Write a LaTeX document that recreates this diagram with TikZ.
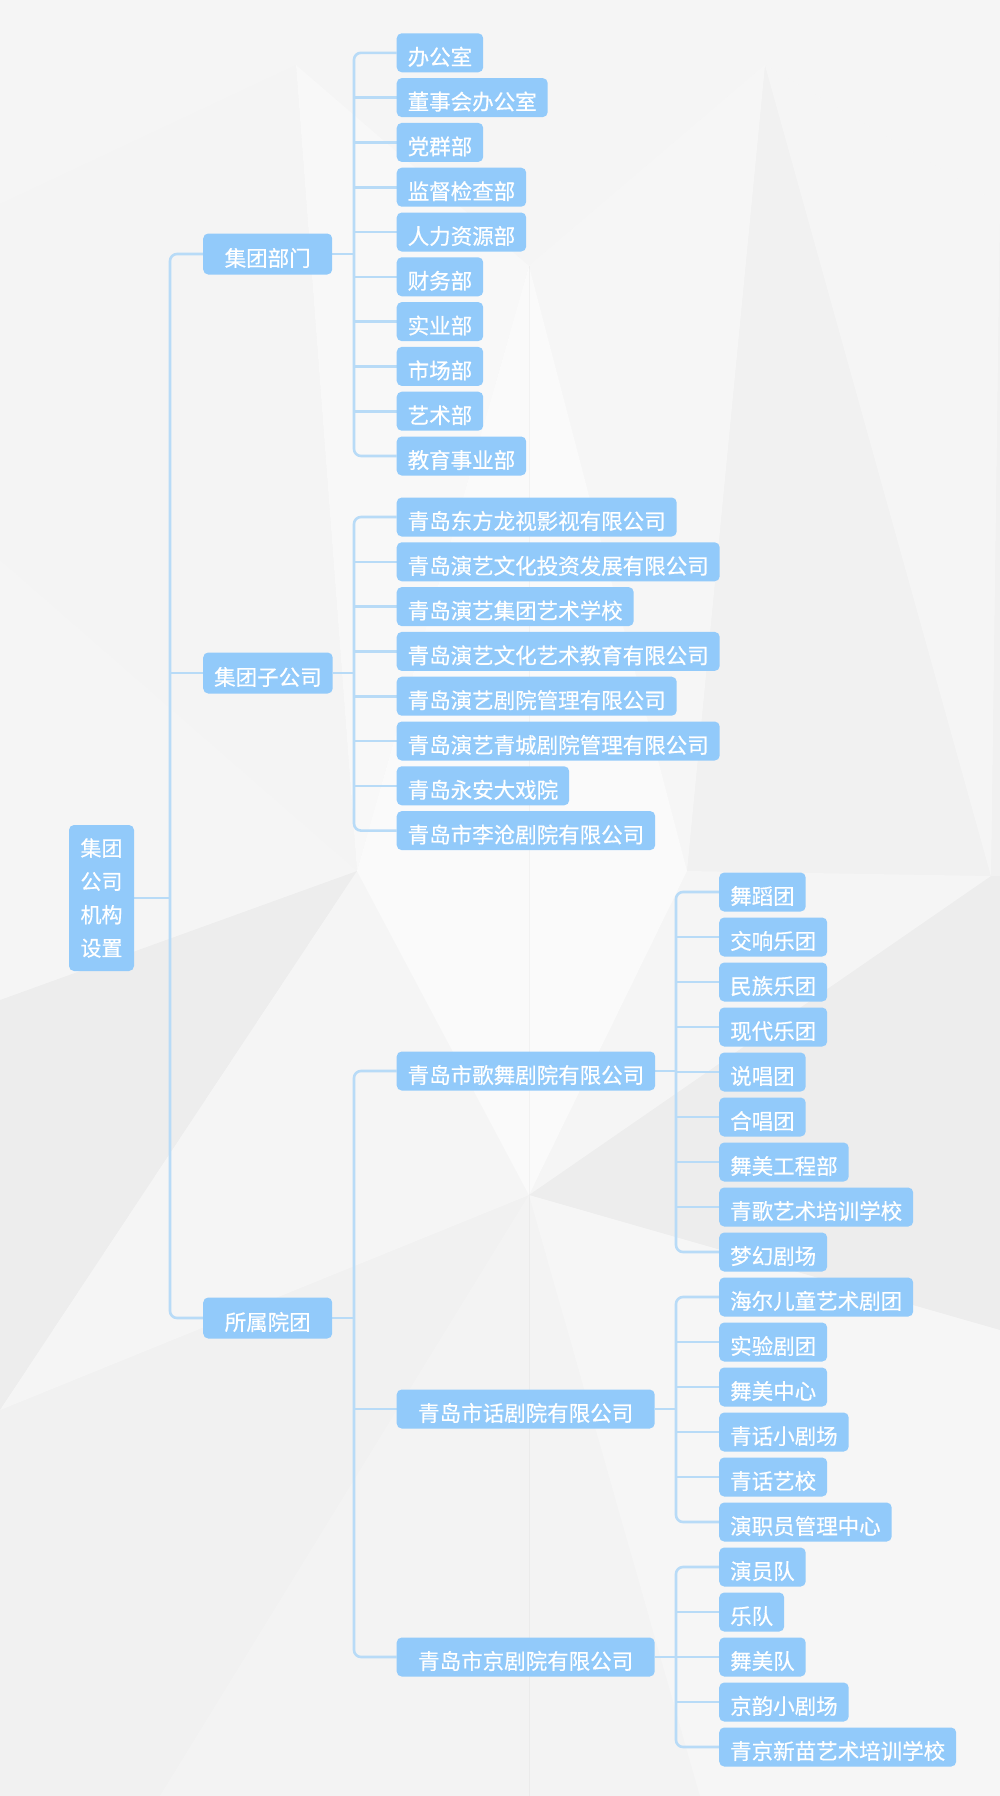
\documentclass[tikz,border=0pt]{standalone}
\usepackage{fontspec}
\setmainfont{Noto Sans CJK SC}[FakeBold=0.5]
\usetikzlibrary{calc}
\definecolor{boxblue}{HTML}{92CAFA}
\definecolor{lineblue}{HTML}{B8DBF7}
\definecolor{bgbase}{HTML}{F1F1F1}
\pgfdeclarelayer{bg}
\pgfdeclarelayer{lines}
\pgfsetlayers{bg,lines,main}
\begin{document}
\begin{tikzpicture}[x=1pt,y=-1pt,
  conn/.style={draw=lineblue,line width=2.6pt,rounded corners=7pt},
  box/.style={fill=boxblue,text=white,rounded corners=5pt,
    font=\fontsize{21.5pt}{26pt}\selectfont,inner xsep=11pt,inner ysep=0pt,
    minimum height=39pt,text height=24.4pt,text depth=0pt,anchor=west},
  lvlone/.style={box,minimum width=129pt,minimum height=41pt},
  lvltwo/.style={box,minimum width=258pt},
  rootbox/.style={fill=boxblue,text=white,rounded corners=5pt,inner sep=0pt,
    minimum width=65pt,minimum height=146pt}]
\useasboundingbox (0,0) rectangle (1000,1796);
% background facets
\begin{pgfonlayer}{bg}
\fill[bgbase] (0,0) rectangle (1000,1796);
\fill[white,opacity=.3] (0,0) -- (1000,0) -- (1000,204) -- (765,65) -- (529,266) -- (296,65) -- (0,204) -- cycle;
\fill[white,opacity=.5] (296,65) -- (529,266) -- (357,871) -- cycle;
\fill[white,opacity=.4] (765,65) -- (529,266) -- (687,871) -- cycle;
\fill[white,opacity=.7] (357,871) -- (529,266) -- (687,871) -- (529,1195) -- cycle;
\fill[white,opacity=.25] (0,204) -- (296,65) -- (357,871) -- (0,560) -- cycle;
\fill[white,opacity=.35] (1000,204) -- (765,65) -- (991,876) -- cycle;
\fill[white,opacity=.3] (357,871) -- (0,560) -- (0,1000) -- cycle;
\fill[white,opacity=.3] (687,871) -- (991,876) -- (529,1195) -- cycle;
\fill[white,opacity=.35] (0,1410) -- (357,871) -- (529,1195) -- cycle;
\fill[white,opacity=.4] (529,1195) -- (1000,1330) -- (1000,1796) -- (700,1796) -- cycle;
\fill[white,opacity=.2] (529,1195) -- (160,1796) -- (700,1796) -- cycle;
\fill[black,opacity=.015] (0,1000) -- (357,871) -- (0,1410) -- cycle;
\fill[black,opacity=.015] (991,876) -- (1000,876) -- (1000,1330) -- (529,1195) -- cycle;
\draw[black,opacity=.03,line width=1pt] (529,266) -- (529,1796);
\end{pgfonlayer}

% root
\node[rootbox] (root) at (101.5,898) {\raisebox{-4pt}{\begin{minipage}{46pt}\centering\fontsize{21pt}{33.3pt}\selectfont 集团\\公司\\机构\\设置\end{minipage}}};

% level one
\node[lvlone] (g1) at (203,254) {集团部门};
\node[lvlone] (g2) at (203,673) {集团子公司};
\node[lvlone] (g3) at (203,1318) {所属院团};

% group 1 children
\foreach \t [count=\i] in {办公室,董事会办公室,党群部,监督检查部,人力资源部,财务部,实业部,市场部,艺术部,教育事业部}
  \node[box] (a\i) at (396.5,{52.8+(\i-1)*44.8}) {\t};
% group 2 children
\foreach \t [count=\i] in {青岛东方龙视影视有限公司,青岛演艺文化投资发展有限公司,青岛演艺集团艺术学校,青岛演艺文化艺术教育有限公司,青岛演艺剧院管理有限公司,青岛演艺青城剧院管理有限公司,青岛永安大戏院,青岛市李沧剧院有限公司}
  \node[box] (b\i) at (396.5,{517+(\i-1)*44.8}) {\t};
% group 3 children
\node[lvltwo] (e1) at (396.5,1071) {青岛市歌舞剧院有限公司};
\node[lvltwo] (e2) at (396.5,1409) {青岛市话剧院有限公司};
\node[lvltwo] (e3) at (396.5,1657) {青岛市京剧院有限公司};
% level three
\foreach \t [count=\i] in {舞蹈团,交响乐团,民族乐团,现代乐团,说唱团,合唱团,舞美工程部,青歌艺术培训学校,梦幻剧场,海尔儿童艺术剧团,实验剧团,舞美中心,青话小剧场,青话艺校,演职员管理中心,演员队,乐队,舞美队,京韵小剧场,青京新苗艺术培训学校}
  \node[box] (d\i) at (719,{892+(\i-1)*45}) {\t};

\coordinate (bus0) at (170,898);
\coordinate (bus1) at (354,254);
\coordinate (bus2) at (354,673);
\coordinate (bus3) at (354,1318);
\coordinate (busA) at (676,1071);
\coordinate (busB) at (676,1409);
\coordinate (busC) at (676,1657);

\begin{pgfonlayer}{lines}
% root level
\draw[conn] (root.east) -- (bus0);
\draw[conn] (g1.west) -| (bus0) |- (g3.west);
\draw[conn] (g2.west) -- (g2.west -| bus0);
% group 1
\draw[conn] (g1.east) -- (bus1);
\draw[conn] (a1.west) -| (bus1) |- (a10.west);
\foreach \i in {2,...,9} \draw[conn] (a\i.west) -- (a\i.west -| bus1);
% group 2
\draw[conn] (g2.east) -- (bus2);
\draw[conn] (b1.west) -| (bus2) |- (b8.west);
\foreach \i in {2,...,7} \draw[conn] (b\i.west) -- (b\i.west -| bus2);
% group 3
\draw[conn] (g3.east) -- (bus3);
\draw[conn] (e1.west) -| (bus3) |- (e3.west);
\draw[conn] (e2.west) -- (e2.west -| bus3);
% 歌舞
\draw[conn] (e1.east) -- (busA);
\draw[conn] (d1.west) -| (busA) |- (d9.west);
\foreach \i in {2,...,8} \draw[conn] (d\i.west) -- (d\i.west -| busA);
% 话剧
\draw[conn] (e2.east) -- (busB);
\draw[conn] (d10.west) -| (busB) |- (d15.west);
\foreach \i in {11,...,14} \draw[conn] (d\i.west) -- (d\i.west -| busB);
% 京剧
\draw[conn] (e3.east) -- (busC);
\draw[conn] (d16.west) -| (busC) |- (d20.west);
\foreach \i in {17,...,19} \draw[conn] (d\i.west) -- (d\i.west -| busC);
\end{pgfonlayer}
\end{tikzpicture}
\end{document}
